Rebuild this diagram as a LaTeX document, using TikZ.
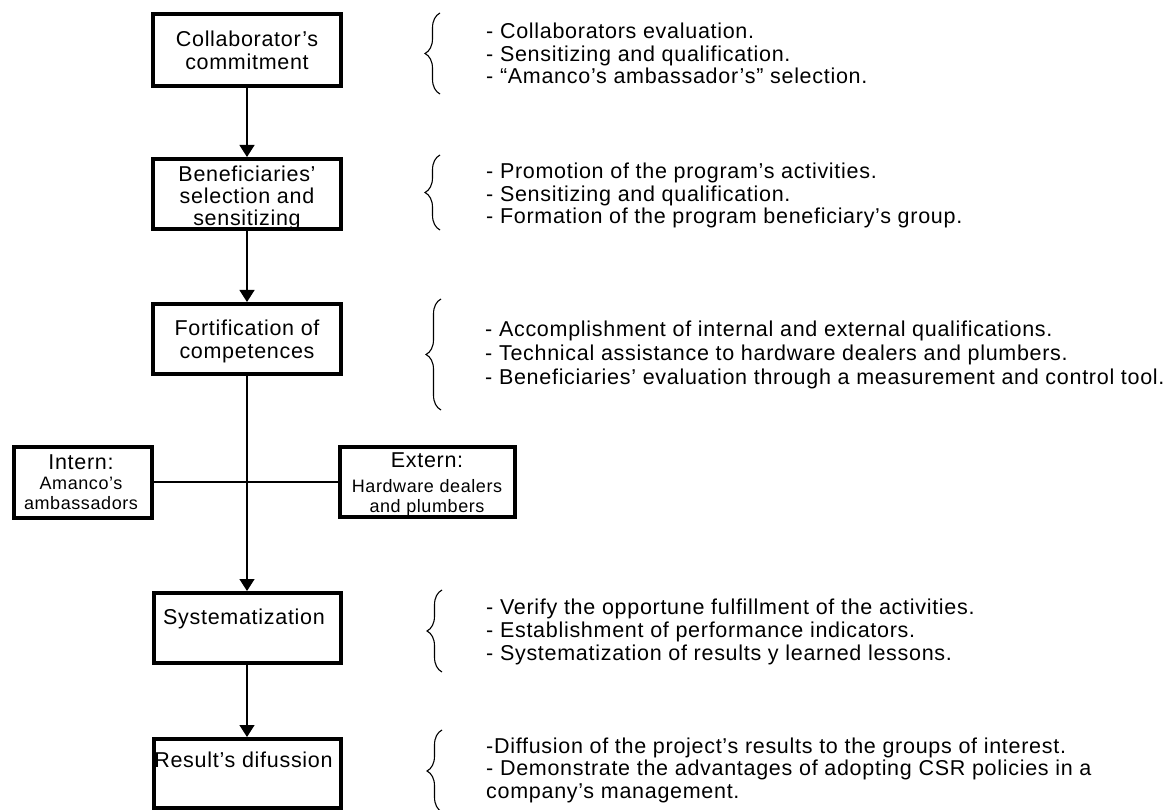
\documentclass[tikz,border=0pt]{standalone}
\usepackage{fontspec}
\setmainfont{Liberation Sans}[LetterSpace=3.3]
\usetikzlibrary{arrows.meta,decorations.pathreplacing}
\begin{document}
\begin{tikzpicture}[x=1pt,y=-1pt,
  box/.style={draw=black, line width=4pt, rectangle, inner sep=0pt, fill=white},
  conn/.style={draw=black, line width=1.3pt},
  arr/.style={conn, -{Triangle[length=12pt,width=15pt]}},
  brc/.style={draw=black, line width=1.1pt, decorate, decoration={brace, amplitude=15pt}},
  lst/.style={inner sep=0pt, anchor=base west, font=\fontsize{21.5pt}{#1}\selectfont},
  ctr/.style={inner sep=0pt, anchor=base, font=\fontsize{21.5pt}{#1}\selectfont},
  sml/.style={inner sep=0pt, anchor=base, font=\fontsize{18pt}{20pt}\selectfont}
]
\useasboundingbox (0,0) rectangle (1170,810);

% main boxes
\node[box, minimum width=188pt, minimum height=72pt] (b1) at (247,50) {};
\node[box, minimum width=188pt, minimum height=70pt] (b2) at (247,194) {};
\node[box, minimum width=188pt, minimum height=70pt] (b3) at (247,339) {};
\node[box, minimum width=187pt, minimum height=70pt] (b4) at (247,628) {};
\node[box, minimum width=187pt, minimum height=69pt] (b5) at (247,773.5) {};
\node[box, minimum width=138pt, minimum height=71pt] (bi) at (83,482) {};
\node[box, minimum width=175pt, minimum height=70pt] (be) at (427.5,482) {};

% box texts
\node[ctr=22pt] (b1t) at (247,47) {\begin{tabular}[t]{@{}c@{}}Collaborator’s\\commitment\end{tabular}};
\node[ctr=20.5pt] (b2t) at (247,182) {\begin{tabular}[t]{@{}c@{}}Beneficiaries’\\selection and\\sensitizing\end{tabular}};
\node[ctr=24pt] (b3t) at (247,335) {\begin{tabular}[t]{@{}c@{}}Fortification of\\competences\end{tabular}};
\node[ctr=22pt] (b4t) at (244,624) {Systematization};
\node[ctr=22pt] (b5t) at (243.5,767) {Result’s difussion};
\node[sml] (bit) at (81,469) {\begin{tabular}[t]{@{}c@{}}{\fontsize{21.5pt}{22pt}\selectfont Intern:}\\Amanco’s\\ambassadors\end{tabular}};
\node[sml] (bet) at (427,467) {\begin{tabular}[t]{@{}c@{}}{\fontsize{21.5pt}{22pt}\selectfont Extern:}\\[5pt]Hardware dealers\\and plumbers\end{tabular}};

% connectors
\draw[arr] (b1) -- (b2);
\draw[arr] (b2) -- (b3);
\draw[conn] (bi) -- (be);
\draw[arr] (b3) -- (b4);
\draw[arr] (b4) -- (b5);

% braces
\draw[brc] (440,94) -- (440,13);
\draw[brc] (440,230) -- (440,155);
\draw[brc] (441,410) -- (441,299);
\draw[brc] (442,672) -- (442,590);
\draw[brc] (442,812) -- (442,730);

% lists
\node[lst=21.5pt] (l1) at (486,39) {\begin{tabular}[t]{@{}l@{}}- Collaborators evaluation.\\- Sensitizing and qualification.\\- “Amanco’s ambassador’s” selection.\end{tabular}};
\node[lst=22.5pt] (l2) at (486,179) {\begin{tabular}[t]{@{}l@{}}- Promotion of the program’s activities.\\- Sensitizing and qualification.\\- Formation of the program beneficiary’s group.\end{tabular}};
\node[lst=24pt] (l3) at (485,337) {\begin{tabular}[t]{@{}l@{}}- Accomplishment of internal and external qualifications.\\- Technical assistance to hardware dealers and plumbers.\\- Beneficiaries’ evaluation through a measurement and control tool.\end{tabular}};
\node[lst=23pt] (l4) at (486,614) {\begin{tabular}[t]{@{}l@{}}- Verify the opportune fulfillment of the activities.\\- Establishment of performance indicators.\\- Systematization of results y learned lessons.\end{tabular}};
\node[lst=22.5pt] (l5) at (486,753) {\begin{tabular}[t]{@{}l@{}}-Diffusion of the project’s results to the groups of interest.\\- Demonstrate the advantages of adopting CSR policies in a\\company’s management.\end{tabular}};
\end{tikzpicture}
\end{document}
